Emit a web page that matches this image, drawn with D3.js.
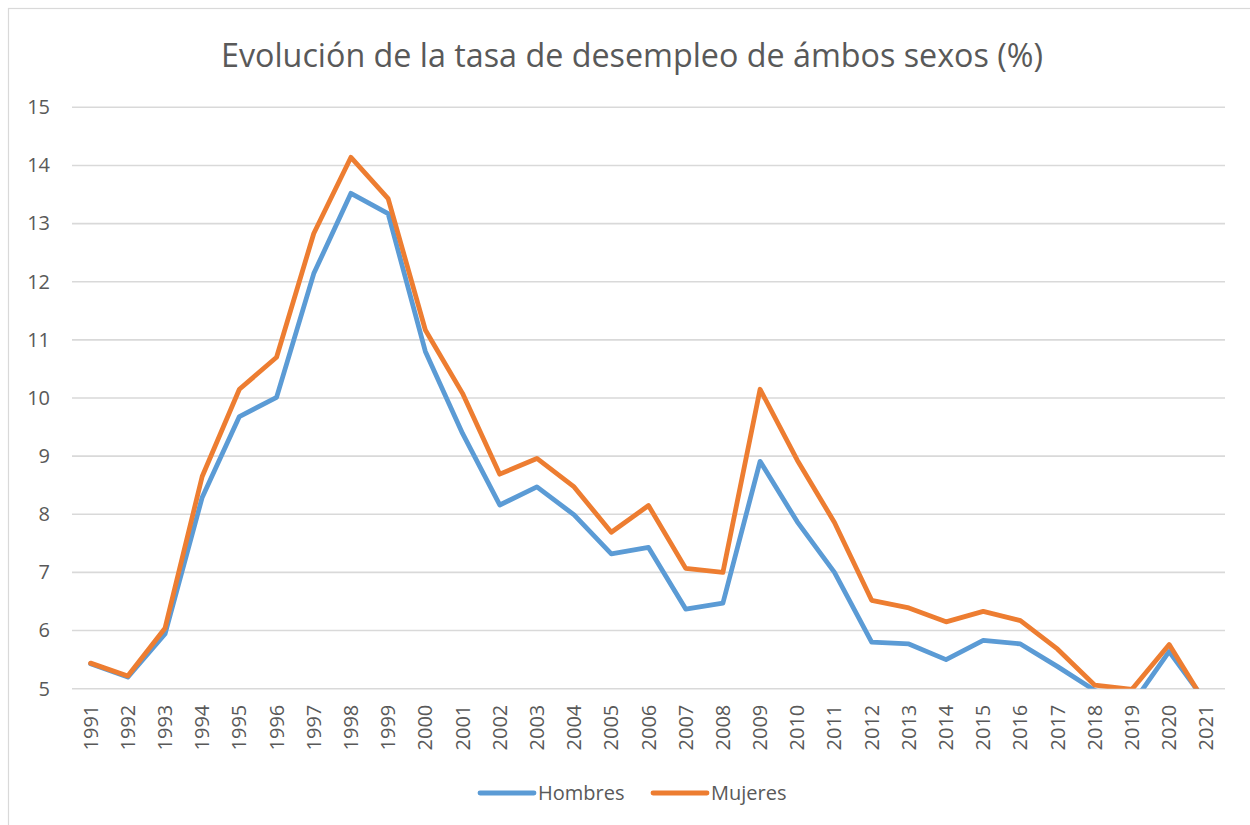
<!DOCTYPE html>
<html>
<head>
<meta charset="utf-8">
<script src="https://cdn.jsdelivr.net/npm/d3@7"></script>
<style>
  body { margin: 0; background: #fff; }
  text { font-family: "Open Sans", "Liberation Sans", sans-serif; fill: #595959; }
</style>
</head>
<body>
<script>
// data
const years = ["1991","1992","1993","1994","1995","1996","1997","1998","1999","2000",
               "2001","2002","2003","2004","2005","2006","2007","2008","2009","2010",
               "2011","2012","2013","2014","2015","2016","2017","2018","2019","2020","2021"];
const hombres = [5.43, 5.20, 5.94, 8.29, 9.68, 10.01, 12.14, 13.52, 13.17, 10.80,
                 9.39, 8.16, 8.47, 7.99, 7.32, 7.43, 6.37, 6.47, 8.91, 7.87,
                 7.00, 5.80, 5.77, 5.50, 5.83, 5.77, 5.38, 4.97, 4.73, 5.64, 4.76];
const mujeres = [5.44, 5.22, 6.04, 8.65, 10.15, 10.70, 12.83, 14.14, 13.43, 11.17,
                 10.08, 8.69, 8.96, 8.47, 7.69, 8.15, 7.07, 7.00, 10.15, 8.93,
                 7.86, 6.52, 6.39, 6.15, 6.33, 6.17, 5.68, 5.06, 4.99, 5.76, 4.72];
const yTicks = [5, 6, 7, 8, 9, 10, 11, 12, 13, 14, 15];
const seriesNames = ["Hombres", "Mujeres"];
const seriesColors = ["#5B9BD5", "#ED7D31"];
const title = "Evolución de la tasa de desempleo de ámbos sexos (%)";

const width = 1250, height = 825;
const plot = {left: 72, right: 1225, top: 107.3, bottom: 688.7};

const svg = d3.select("body").append("svg")
    .attr("width", width)
    .attr("height", height);

// chart frame (runs off the right and bottom edge like the original)
svg.append("rect")
    .attr("x", 8.5).attr("y", 8.5)
    .attr("width", 1260).attr("height", 830)
    .attr("fill", "#fff")
    .attr("stroke", "#D9D9D9")
    .attr("stroke-width", 1.2);

svg.append("text")
    .attr("x", 632).attr("y", 67)
    .attr("text-anchor", "middle")
    .attr("font-size", 32)
    .attr("textLength", 822)
    .attr("lengthAdjust", "spacingAndGlyphs")
    .text(title);

const x = d3.scaleBand().domain(years).range([plot.left, plot.right]);
const y = d3.scaleLinear().domain([5, 15]).range([plot.bottom, plot.top]);

// horizontal gridlines
svg.append("g").selectAll("line")
    .data(yTicks)
    .enter().append("line")
    .attr("x1", plot.left).attr("x2", plot.right)
    .attr("y1", d => y(d)).attr("y2", d => y(d))
    .attr("stroke", "#D9D9D9")
    .attr("stroke-width", 1.6);

// y axis labels
const yAxis = svg.append("g")
    .attr("transform", "translate(" + (plot.left - 22) + ",0)")
    .call(d3.axisLeft(y).tickValues(yTicks).tickSize(0).tickPadding(0));
yAxis.select(".domain").remove();
yAxis.selectAll("text")
    .attr("font-size", 20)
    .attr("fill", "#595959")
    .attr("font-family", "\"Open Sans\", sans-serif");

// x axis labels, rotated
const xAxis = svg.append("g")
    .attr("transform", "translate(0," + (plot.bottom + 16) + ")")
    .call(d3.axisBottom(x).tickSize(0).tickPadding(0));
xAxis.select(".domain").remove();
xAxis.selectAll("text")
    .attr("font-size", 20)
    .attr("fill", "#595959")
    .attr("font-family", "\"Open Sans\", sans-serif")
    .attr("transform", "rotate(-90)")
    .attr("text-anchor", "end")
    .attr("dx", 0)
    .attr("dy", "0.35em")
    .attr("x", 0).attr("y", 0);

// clip so values under 5 are cut at the axis
svg.append("clipPath").attr("id", "plotClip")
    .append("rect")
    .attr("x", plot.left).attr("y", plot.top - 10)
    .attr("width", plot.right - plot.left)
    .attr("height", plot.bottom - plot.top + 10);

const line = d3.line()
    .x((d, i) => x(years[i]) + x.bandwidth() / 2)
    .y(d => y(d));

const series = [hombres, mujeres];
svg.append("g").attr("clip-path", "url(#plotClip)")
    .selectAll("path")
    .data(series)
    .enter().append("path")
    .attr("d", d => line(d))
    .attr("fill", "none")
    .attr("stroke", (d, i) => seriesColors[i])
    .attr("stroke-width", 4.8)
    .attr("stroke-linejoin", "round")
    .attr("stroke-linecap", "round");

// legend
const legendX = [480, 653];
const legend = svg.append("g").selectAll("g")
    .data(seriesNames)
    .enter().append("g")
    .attr("transform", (d, i) => "translate(" + legendX[i] + ",793)");
legend.append("line")
    .attr("x1", 0).attr("x2", 54)
    .attr("y1", 0).attr("y2", 0)
    .attr("stroke", (d, i) => seriesColors[i])
    .attr("stroke-width", 4.8)
    .attr("stroke-linecap", "round");
legend.append("text")
    .attr("x", 58).attr("y", 0)
    .attr("dy", "0.35em")
    .attr("font-size", 20)
    .text(d => d);
</script>
</body>
</html>
